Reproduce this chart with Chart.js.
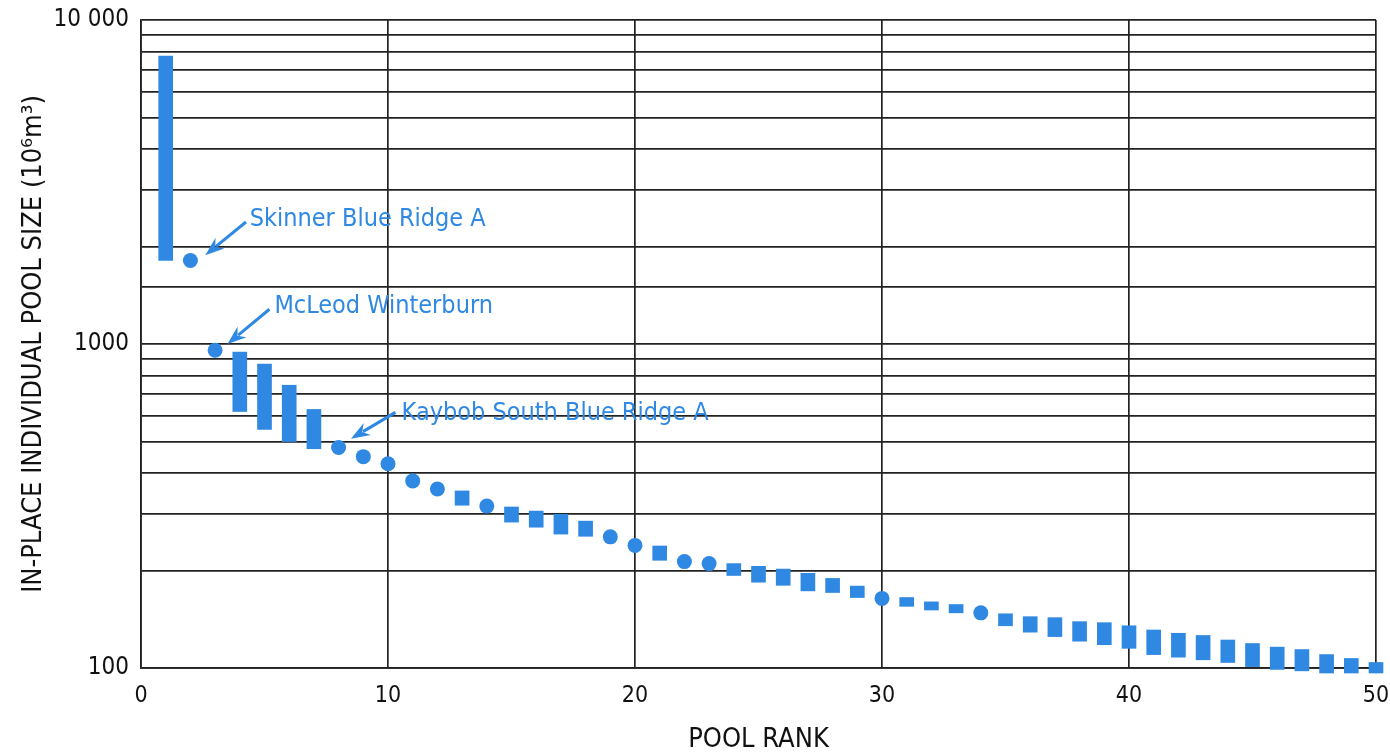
<!DOCTYPE html>
<html>
<head>
<meta charset="utf-8">
<script src="https://cdn.jsdelivr.net/npm/chart.js@4"></script>
<style>
html, body { margin: 0; padding: 0; background: #fff; }
#wrap { width: 1390px; height: 756px; }
</style>
</head>
<body>
<div id="wrap"><canvas id="poolChart"></canvas></div>
<script>
// pools shown as vertical ranges / squares (rank, low, high in 10^6 m3)
var barRanks = [1, 4, 5, 6, 7, 13, 15, 16, 17, 18, 21, 24, 25, 26, 27, 28, 29, 31, 32, 33, 35, 36, 37, 38, 39, 40, 41, 42, 43, 44, 45, 46, 47, 48, 49, 50];
var barLow = [1810, 619, 545, 500, 475, 318, 282, 272, 259, 255, 215, 193, 184, 180, 173, 171, 165, 155, 151, 148, 135, 129, 125, 121, 118, 115, 110, 108, 106, 104, 101, 99, 98, 96.5, 96.5, 96.5];
var barHigh = [7740, 944, 867, 746, 628, 352, 314, 305, 298, 284, 238, 210, 206, 202, 196, 189, 179, 165, 160, 157, 147, 144, 143, 139, 138, 135, 131, 128, 126, 122, 119, 116, 114, 110, 107, 104];

// pools shown as single dots
var dotRanks = [2, 3, 8, 9, 10, 11, 12, 14, 19, 20, 22, 23, 30, 34];
var dotValues = [1810, 957, 479, 449, 427, 378, 357, 316, 254, 239, 213, 210, 164, 148];

var yLabels = { 100: '100', 1000: '1000', 10000: '10 000' };

// callouts: text position and arrow (tail -> tip) in data units
var callouts = [
	{ text: 'Skinner Blue Ridge A', x: 4.4, y: 2420, from: [4.25, 2380], to: [2.6, 1880] },
	{ text: 'McLeod Winterburn', x: 5.4, y: 1310, from: [5.2, 1280], to: [3.5, 1000] },
	{ text: 'Kaybob South Blue Ridge A', x: 10.55, y: 612, from: [10.3, 615], to: [8.5, 510] }
];

var BLUE = '#2f88e2';
var INK = '#111';
var FONT = "'DejaVu Sans Condensed', 'Liberation Sans Narrow', 'Liberation Sans', sans-serif";

var bars = [];
for (var i = 0; i < barRanks.length; i++) {
	bars.push({ x: barRanks[i], y: [barLow[i], barHigh[i]] });
}
var dots = [];
for (var j = 0; j < dotRanks.length; j++) {
	dots.push({ x: dotRanks[j], y: dotValues[j] });
}

var calloutPlugin = {
	id: 'callouts',
	afterDatasetsDraw: function(chart) {
		var ctx = chart.ctx, xs = chart.scales.x, ys = chart.scales.y;
		ctx.save();
		ctx.fillStyle = BLUE;
		ctx.strokeStyle = BLUE;
		ctx.font = '25px ' + FONT;
		ctx.textBaseline = 'middle';
		callouts.forEach(function(c) {
			ctx.fillText(c.text, xs.getPixelForValue(c.x), ys.getPixelForValue(c.y));
			var x1 = xs.getPixelForValue(c.from[0]), y1 = ys.getPixelForValue(c.from[1]);
			var x2 = xs.getPixelForValue(c.to[0]), y2 = ys.getPixelForValue(c.to[1]);
			var a = Math.atan2(y2 - y1, x2 - x1);
			var len = 19, w = 7;
			var bx = x2 - len * Math.cos(a), by = y2 - len * Math.sin(a);
			ctx.lineWidth = 3;
			ctx.beginPath();
			ctx.moveTo(x1, y1);
			ctx.lineTo(bx + 5 * Math.cos(a), by + 5 * Math.sin(a));
			ctx.stroke();
			ctx.beginPath();
			ctx.moveTo(x2, y2);
			ctx.lineTo(bx + w * Math.sin(a), by - w * Math.cos(a));
			ctx.lineTo(bx + 6 * Math.cos(a), by + 6 * Math.sin(a));
			ctx.lineTo(bx - w * Math.sin(a), by + w * Math.cos(a));
			ctx.closePath();
			ctx.fill();
		});
		ctx.restore();
	}
};

var config = {
	type: 'bar',
	data: {
		datasets: [{
			type: 'bar',
			data: bars,
			backgroundColor: BLUE,
			borderWidth: 0,
			barThickness: 14,
			grouped: false,
			clip: false
		}, {
			type: 'scatter',
			data: dots,
			backgroundColor: BLUE,
			borderWidth: 0,
			pointRadius: 7.5,
			pointHoverRadius: 7.5,
			clip: false
		}]
	},
	options: {
		responsive: true,
		maintainAspectRatio: false,
		animation: false,
		layout: { padding: { top: 20, right: 14, left: 0, bottom: 0 } },
		plugins: {
			legend: { display: false },
			tooltip: { enabled: false }
		},
		scales: {
			x: {
				type: 'linear',
				min: 0,
				max: 50,
				offset: false,
				grid: { color: '#222', lineWidth: 1.7, drawTicks: false, offset: false },
				border: { color: '#222', width: 1.7 },
				ticks: { stepSize: 10, color: INK, padding: 14, font: { family: FONT, size: 23 } },
				title: {
					display: true,
					text: 'POOL RANK',
					color: INK,
					font: { family: FONT, size: 27 },
					padding: { top: 0, bottom: 0 }
				},
				afterFit: function(scale) {
					scale.height = 88;
					scale.paddingLeft = 0;
					scale.paddingRight = 0;
				}
			},
			y: {
				type: 'logarithmic',
				min: 100,
				max: 10000,
				grid: { color: '#222', lineWidth: 1.7, drawTicks: false },
				border: { color: '#222', width: 1.7 },
				ticks: {
					autoSkip: false,
					color: INK,
					padding: 12,
					font: { family: FONT, size: 24 },
					callback: function(value) {
						return yLabels[value] || '';
					}
				},
				title: {
					display: true,
					text: 'IN-PLACE INDIVIDUAL POOL SIZE (10\u2076m\u00b3)',
					color: INK,
					font: { family: FONT, size: 27 },
					padding: { top: 18, bottom: 0 }
				},
				afterFit: function(scale) {
					scale.width = 141;
					scale.paddingTop = 0;
					scale.paddingBottom = 0;
				}
			}
		}
	},
	plugins: [calloutPlugin]
};

window.onload = function() {
	var ctx = document.getElementById('poolChart').getContext('2d');
	window.poolChart = new Chart(ctx, config);
};
</script>
</body>
</html>
